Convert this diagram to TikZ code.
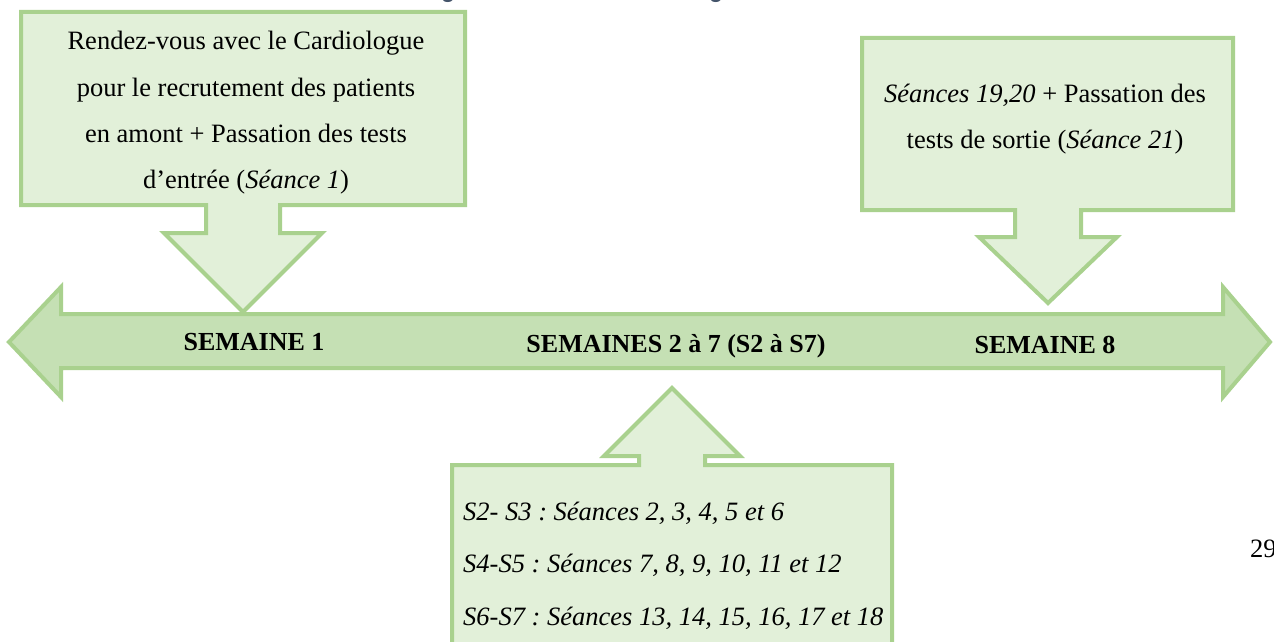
\documentclass[tikz,border=0pt]{standalone}
\usepackage{fontspec}
\setmainfont{Liberation Serif}
\newfontfamily\capfont{Carlito}
\definecolor{gstroke}{HTML}{A9D18E}
\definecolor{gfill}{HTML}{E2F0D9}
\definecolor{afill}{HTML}{C5E0B4}
\definecolor{capcol}{HTML}{44546A}
\frenchspacing
\tikzset{
  callout/.style={draw=gstroke, fill=gfill, line width=4pt, line join=miter},
  timeline/.style={draw=gstroke, fill=afill, line width=4pt, line join=miter},
  txt/.style={inner sep=0pt, font=\fontsize{26.5}{30}\selectfont, text=black},
  wk/.style={inner sep=0pt, font=\fontsize{26}{30}\selectfont\bfseries, text=black, anchor=base},
  capg/.style={inner sep=0pt, anchor=base, text=capcol, font=\capfont\fontsize{24}{28}\selectfont\bfseries},
}
\begin{document}
\begin{tikzpicture}[x=1pt,y=-1pt]
\useasboundingbox (0,0) rectangle (1274,642);
\fill[white] (0,0) rectangle (1274,642);
% cut caption above
\node[capg] (capg1) at (448,-1.5) {g};
\node[capg] (capg2) at (716,-1.5) {g};
% timeline double arrow
\path[timeline] (9,342) -- (61,287) -- (61,314) -- (1223,314) -- (1223,287) -- (1270,342)
  -- (1223,397) -- (1223,368) -- (61,368) -- (61,397) -- cycle;
% left callout
\path[callout] (21,12) -- (465,12) -- (465,205) -- (280,205) -- (280,233) -- (322,233) -- (243,312)
  -- (164,233) -- (206,233) -- (206,205) -- (21,205) -- cycle;
% right callout
\path[callout] (862,38) -- (1233,38) -- (1233,210) -- (1081,210) -- (1081,237) -- (1117,237) -- (1048,303)
  -- (979,237) -- (1015,237) -- (1015,210) -- (862,210) -- cycle;
% bottom callout
\path[callout] (672,388) -- (740,456) -- (705,456) -- (705,465) -- (892,465) -- (892,700) -- (452,700)
  -- (452,465) -- (639,465) -- (639,456) -- (604,456) -- cycle;
% left text
\node[txt, anchor=base] (l1) at (246,50) {Rendez-vous avec le Cardiologue};
\node[txt, anchor=base] (l2) at (246,96) {pour le recrutement des patients};
\node[txt, anchor=base] (l3) at (246,142) {en amont + Passation des tests};
\node[txt, anchor=base] (l4) at (246,188) {d’entrée (\textit{Séance 1})};
% right text
\node[txt, anchor=base] (r1) at (1045,102) {\textit{Séances 19,20} + Passation des};
\node[txt, anchor=base] (r2) at (1045,148) {tests de sortie (\textit{Séance 21})};
% bottom text
\node[txt, anchor=base west] (b1) at (463,520) {\textit{S2- S3 : Séances 2, 3, 4, 5 et 6}};
\node[txt, anchor=base west] (b2) at (463,572) {\textit{S4-S5 : Séances 7, 8, 9, 10, 11 et 12}};
\node[txt, anchor=base west] (b3) at (463,625) {\textit{S6-S7 : Séances 13, 14, 15, 16, 17 et 18}};
% week labels
\node[wk] (w1) at (254,350) {SEMAINE 1};
\node[wk] (w2) at (676,352) {SEMAINES 2 à 7 (S2 à S7)};
\node[wk] (w8) at (1045,353) {SEMAINE 8};
% page number
\node[txt, anchor=base west] (pg) at (1250,557) {29};
\end{tikzpicture}
\end{document}
